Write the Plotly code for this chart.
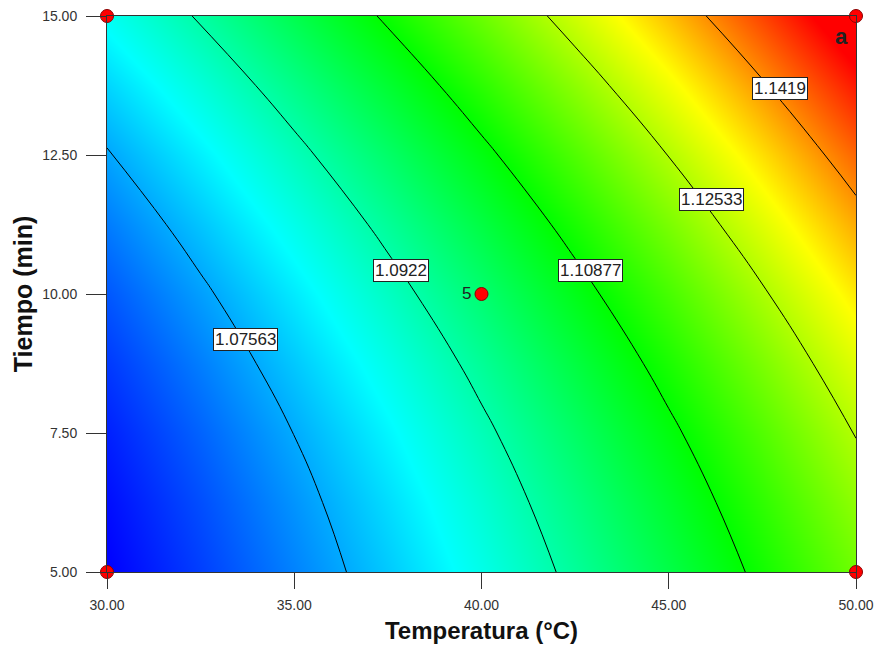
import plotly.graph_objects as go

# Factor levels (grid where the response was read)
temperatura = [30.0, 32.5, 35.0, 37.5, 40.0, 42.5, 45.0, 47.5, 50.0]
tiempo = [5.0, 6.25, 7.5, 8.75, 10.0, 11.25, 12.5, 13.75, 15.0]

# Response surface values, one row per tiempo level
respuesta = [
    [1.05895, 1.06516, 1.07175, 1.07871, 1.08605, 1.09376, 1.10185, 1.11031, 1.11915],
    [1.06025, 1.06666, 1.07346, 1.08063, 1.08817, 1.09609, 1.10438, 1.11305, 1.12210],
    [1.06210, 1.06873, 1.07573, 1.08310, 1.09085, 1.09898, 1.10748, 1.11635, 1.12560],
    [1.06452, 1.07135, 1.07855, 1.08613, 1.09409, 1.10242, 1.11113, 1.12021, 1.12967],
    [1.06750, 1.07454, 1.08195, 1.08974, 1.09790, 1.10644, 1.11535, 1.12464, 1.13430],
    [1.07105, 1.07829, 1.08591, 1.09390, 1.10227, 1.11101, 1.12013, 1.12963, 1.13950],
    [1.07515, 1.08260, 1.09043, 1.09863, 1.10720, 1.11615, 1.12548, 1.13518, 1.14525],
    [1.07982, 1.08747, 1.09550, 1.10391, 1.11269, 1.12185, 1.13138, 1.14128, 1.15157],
    [1.08505, 1.09291, 1.10115, 1.10976, 1.11875, 1.12811, 1.13785, 1.14796, 1.15845],
]

# Contour levels shown on the plot
niveles = [1.07563, 1.0922, 1.10877, 1.12533, 1.1419]
# Where each level's label sits along its line (temperatura, tiempo)
etiqueta_t = [33.69, 37.85, 42.92, 46.13, 47.97]
etiqueta_min = [9.19, 10.43, 10.43, 11.70, 13.69]

# Design points and replicate count at the centre point
diseno_temp = [30, 30, 50, 50, 40]
diseno_tiempo = [5, 15, 5, 15, 10]
replicas_centro = 5

x_ticks = [30, 35, 40, 45, 50]
y_ticks = [5, 7.5, 10, 12.5, 15]

paso = (niveles[-1] - niveles[0]) / (len(niveles) - 1)
zmin = niveles[0] - paso
zmax = niveles[-1] + paso

# Rainbow scale: blue -> cyan -> green -> yellow -> red
escala = [
    [0.0, "rgb(0,0,255)"],
    [0.25, "rgb(0,255,255)"],
    [0.5, "rgb(0,255,0)"],
    [0.74, "rgb(255,255,0)"],
    [0.95, "rgb(255,0,0)"],
    [1.0, "rgb(255,0,0)"],
]

FONT = "Arial, 'Liberation Sans', sans-serif"

fig = go.Figure()

fig.add_trace(go.Heatmap(
    x=temperatura, y=tiempo, z=respuesta,
    zmin=zmin, zmax=zmax, colorscale=escala,
    zsmooth="best", showscale=False, hoverinfo="skip",
))

fig.add_trace(go.Contour(
    x=temperatura, y=tiempo, z=respuesta,
    autocontour=False,
    contours=dict(start=niveles[0], end=niveles[-1] + paso / 2, size=paso,
                  coloring="none", showlabels=False),
    line=dict(color="black", width=1, smoothing=1.3),
    showscale=False, hoverinfo="skip",
))

fig.add_trace(go.Scatter(
    x=diseno_temp, y=diseno_tiempo, mode="markers",
    marker=dict(size=13, color="#ff0000", line=dict(color="#8a0000", width=1)),
    cliponaxis=False, hoverinfo="skip", showlegend=False,
))

for nivel, tx, ty in zip(niveles, etiqueta_t, etiqueta_min):
    fig.add_annotation(
        x=tx, y=ty, text=f"{nivel:g}", showarrow=False,
        font=dict(family=FONT, size=17, color="#222"),
        bgcolor="white", bordercolor="#222", borderwidth=1, borderpad=1,
        xanchor="center", yanchor="middle",
    )

fig.add_annotation(
    x=diseno_temp[-1], y=diseno_tiempo[-1], text=str(replicas_centro),
    showarrow=False, xanchor="right", yanchor="middle", xshift=-9, yshift=1,
    font=dict(family=FONT, size=17, color="#222"),
)

fig.add_annotation(
    x=1, y=1, xref="paper", yref="paper", text="<b>a</b>", showarrow=False,
    xanchor="right", yanchor="top", xshift=-6, yshift=-6,
    font=dict(family=FONT, size=22, color="#222"),
)

fig.update_xaxes(
    range=[30, 50], tickvals=x_ticks, ticktext=[f"{v:.2f}" for v in x_ticks],
    ticks="outside", ticklen=16, tickcolor="#333", tickwidth=1,
    showline=True, mirror=True, linecolor="#333", linewidth=1,
    showgrid=False, zeroline=False, automargin=False,
    ticklabelstandoff=4,
    tickfont=dict(family=FONT, size=14, color="#333"),
    title=dict(text="<b>Temperatura (°C)</b>", standoff=10,
               font=dict(family=FONT, size=24, color="#111")),
)
fig.update_yaxes(
    range=[5, 15], tickvals=y_ticks, ticktext=[f"{v:.2f}" for v in y_ticks],
    ticks="outside", ticklen=20, tickcolor="#333", tickwidth=1,
    showline=True, mirror=True, linecolor="#333", linewidth=1,
    showgrid=False, zeroline=False, automargin=False,
    ticklabelstandoff=6,
    tickfont=dict(family=FONT, size=14, color="#333"),
    title=dict(text="<b>Tiempo (min)</b>", standoff=2,
               font=dict(family=FONT, size=25, color="#111")),
)

fig.update_layout(
    width=878, height=655,
    margin=dict(l=107, r=22, t=16, b=83),
    paper_bgcolor="white", plot_bgcolor="white",
    showlegend=False,
)

fig.write_html("out.html")
